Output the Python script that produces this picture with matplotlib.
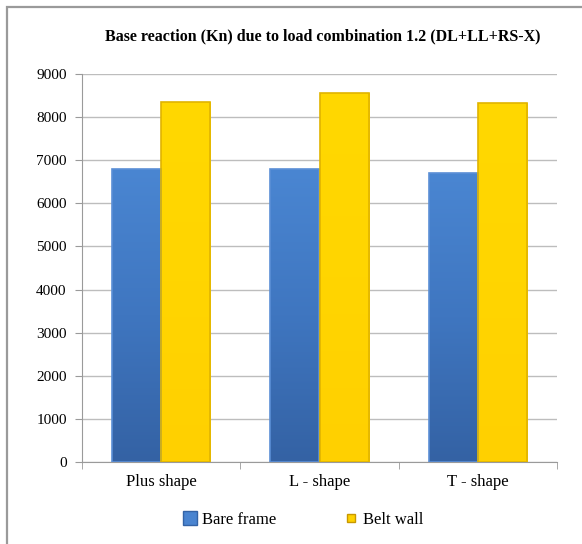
import numpy as np
import matplotlib
matplotlib.use("Agg")
import matplotlib.pyplot as plt
from matplotlib.colors import LinearSegmentedColormap
from matplotlib.lines import Line2D
from matplotlib.patches import Rectangle

categories = ["Plus shape", "L - shape", "T - shape"]
bare_frame = [6800, 6790, 6700]
belt_wall = [8360, 8570, 8320]
series_names = ["Bare frame", "Belt wall"]
y_ticks = [0, 1000, 2000, 3000, 4000, 5000, 6000, 7000, 8000, 9000]

plt.rcParams["font.family"] = ["Liberation Serif", "DejaVu Serif"]

W, H = 582, 544
fig = plt.figure(figsize=(W / 100, H / 100), dpi=100)
fig.patch.set_facecolor("white")

# outer chart frame (grey border on top and left)
fig.patches.append(Rectangle((7 / W, -0.05), 1.2, (H - 7) / H + 0.05,
                             transform=fig.transFigure, fill=False,
                             edgecolor="#9a9a9a", linewidth=1.6))

ax = fig.add_axes([82 / W, (H - 462) / H, (557 - 82) / W, (462 - 74) / H])

x = np.arange(len(categories))
bw = 0.31

blue_cmap = LinearSegmentedColormap.from_list("bl", ["#3462a4", "#3f76c0", "#4a86d2"])
yellow_cmap = LinearSegmentedColormap.from_list("yl", ["#ffd000", "#ffd500", "#ffd800"])

def gradient_bars(xs, heights, cmap, edge, offset):
    bars = ax.bar(xs + offset, heights, width=bw, color="none",
                  edgecolor=edge, linewidth=1.2, zorder=3)
    grad = np.linspace(0, 1, 256).reshape(-1, 1)
    for b in bars:
        x0, y0 = b.get_x(), b.get_y()
        im = ax.imshow(grad, cmap=cmap, aspect="auto", origin="lower",
                       extent=[x0, x0 + b.get_width(), y0, y0 + b.get_height()],
                       zorder=2)
        im.set_clip_path(b)
    return bars

gradient_bars(x, bare_frame, blue_cmap, "#5b8fd6", -bw / 2)
gradient_bars(x, belt_wall, yellow_cmap, "#e0b400", bw / 2)
ax.set_xlim(-0.5, len(categories) - 0.5)
ax.set_ylim(0, 9000)

ax.set_yticks(y_ticks)
ax.set_yticklabels([str(v) for v in y_ticks], fontsize=11)
ax.yaxis.grid(True, color="#bdbdbd", linewidth=1.0, zorder=0)
ax.set_axisbelow(True)

ax.set_xticks(x)
ax.set_xticklabels(categories, fontsize=12)
ax.tick_params(axis="x", length=0, pad=9)
ax.set_xticks([-0.5, 0.5, 1.5, 2.5], minor=True)
ax.tick_params(axis="x", which="minor", length=5, color="#9a9a9a")
ax.tick_params(axis="y", length=5, color="#9a9a9a", pad=6)

for side in ["top", "right"]:
    ax.spines[side].set_visible(False)
for side in ["left", "bottom"]:
    ax.spines[side].set_color("#9a9a9a")

fig.text(0.555, (H - 36) / H, "Base reaction (Kn) due to load combination 1.2 (DL+LL+RS-X)",
         ha="center", va="center", fontsize=11.5, fontweight="bold")

handles = [
    Line2D([], [], linestyle="none", marker="s", markersize=10.5,
           markerfacecolor="#4a84d0", markeredgecolor="#3463a6"),
    Line2D([], [], linestyle="none", marker="s", markersize=6,
           markerfacecolor="#ffd200", markeredgecolor="#c89800"),
]
fig.legend(handles, series_names, loc="center", bbox_to_anchor=(0.52, (H - 520) / H),
           ncol=2, frameon=False, fontsize=12, handletextpad=0.2,
           columnspacing=4.0, handlelength=1.0)

fig.savefig("out.png", dpi=100)
